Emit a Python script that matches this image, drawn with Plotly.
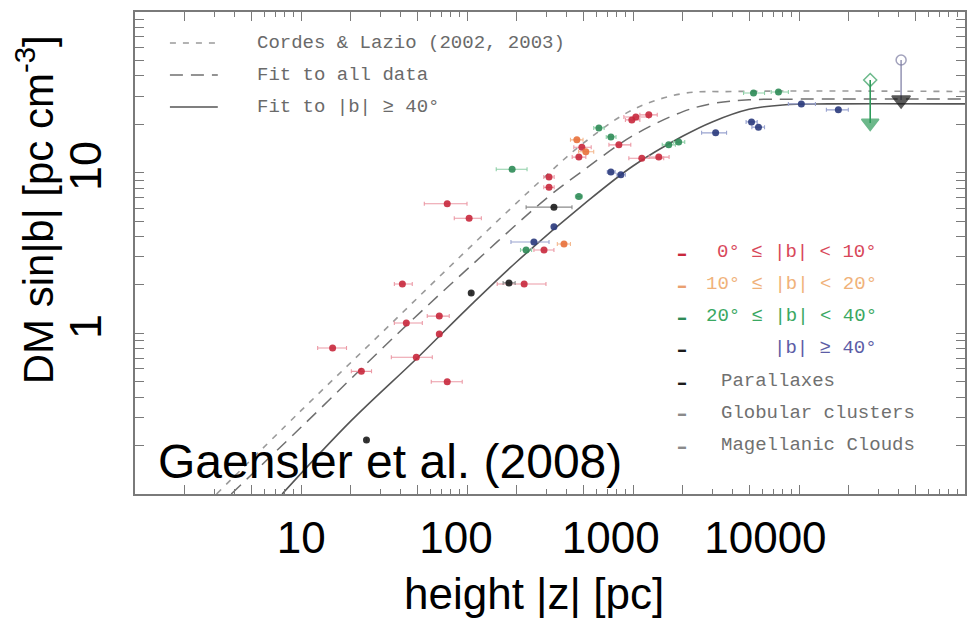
import plotly.graph_objects as go

# ---- model curves: DM sin|b| [pc cm^-3] versus height |z| [pc] ----
cl_z = [3.1, 10, 31, 100, 300, 500, 1000, 2000, 4000, 100000]
cl_dm = [0.1, 0.33, 1.02, 3.3, 9.6, 15.2, 24.7, 31.1, 32.0, 32.0]

all_z = [3.8, 10, 38, 100, 300, 500, 1000, 2000, 3000, 5000, 10000, 100000]
all_dm = [0.1, 0.26, 0.99, 2.5, 6.9, 10.3, 17.0, 24.0, 26.9, 28.4, 28.7, 28.7]

hi_z = [7.7, 20, 50, 100, 200, 500, 1000, 2000, 3000, 5000, 8000, 15000, 100000]
hi_dm = [0.1, 0.285, 0.70, 1.42, 2.8, 6.3, 11.0, 16.9, 20.7, 24.8, 26.4, 26.8, 26.8]

# ---- pulsars, grouped by Galactic latitude (z, DM sin|b|, z range) ----
b00_z = [76, 103, 40.8, 68.1, 43.1, 68.1, 15.5, 49.5, 23.1, 76, 221, 291, 312, 312,
         492, 472, 822, 1130, 1430, 1040, 1245, 984]
b00_dm = [6.4, 5.2, 2.03, 1.28, 1.16, 0.99, 0.81, 0.71, 0.58, 0.50, 2.03, 3.3, 8.1, 9.4,
          14.4, 12.5, 14.9, 12.3, 12.5, 22.2, 22.9, 21.3]
b00_lo = [55.3, 83.8, 36.5, 57.6, 36.5, 68.1, 12.6, 35.0, 20.1, 60.9, 152, 253, 290, 290,
          440, 430, 716, 944, 1250, 881, 1100, 900]
b00_hi = [100, 122, 46.8, 78.2, 53.8, 68.1, 18.8, 61.8, 26.6, 93.6, 299, 334, 335, 335,
          560, 520, 970, 1531, 1650, 1245, 1400, 1100]

b10_z = [384, 520, 459]
b10_dm = [3.6, 13.5, 16.0]
b10_lo = [350, 470, 420]
b10_hi = [420, 580, 500]

b20_z = [187, 227, 472, 736, 623, 1641, 1884, 5320, 7520]
b20_dm = [10.5, 3.3, 7.1, 16.7, 19.0, 14.9, 15.5, 31.3, 31.8]
b20_lo = [150, 210, 450, 690, 580, 1500, 1750, 4634, 6800]
b20_hi = [230, 245, 495, 790, 670, 1800, 2050, 6200, 8630]

b40_z = [334, 253, 736, 845, 3146, 5176, 5700, 10330, 17260]
b40_dm = [4.6, 3.7, 10.1, 9.7, 17.7, 20.7, 19.2, 26.8, 24.6]
b40_lo = [334, 184, 700, 800, 2590, 4800, 5200, 8630, 14620]
b40_hi = [334, 312, 780, 900, 3662, 5600, 6200, 12560, 19820]

par_z = [334, 106, 179, 24.8]
par_dm = [6.1, 1.78, 2.06, 0.217]
par_lo = [227, 106, 165, 24.8]
par_hi = [429, 106, 195, 24.8]

# Magellanic Clouds: |z| and the two ends of each DM range
lmc_z = 26850
lmc_dm = [37.7, 20.4]
smc_z = 41220
smc_dm = [50.3, 28.3]

x_tick_vals = [10, 100, 1000, 10000]
x_tick_text = ["10", "100", "1000", "10000"]
y_tick_vals = [1, 10]

fig = go.Figure()

# frame geometry (pixels) used to place the in-plot legends
L, R, T, B = 135, 967, 12, 494


def px(x):
    return (x - L) / (R - L)


def py(y):
    return (B - y) / (B - T)


def xerr(z, lo, hi, color):
    return dict(type="data", symmetric=False,
                array=[h - v for v, h in zip(z, hi)],
                arrayminus=[v - l for v, l in zip(z, lo)],
                color=color, thickness=1.1, width=2)


CL_DASH, ALL_DASH = "6px,7px", "13px,8px"
CL_COL, ALL_COL, HI_COL = "#9a9a9a", "#707070", "#555555"

# model lines
fig.add_trace(go.Scatter(x=cl_z, y=cl_dm, mode="lines", line_shape="spline",
                         line=dict(color=CL_COL, width=1.6, dash=CL_DASH),
                         hoverinfo="skip"))
fig.add_trace(go.Scatter(x=all_z, y=all_dm, mode="lines", line_shape="spline",
                         line=dict(color=ALL_COL, width=1.5, dash=ALL_DASH),
                         hoverinfo="skip"))
fig.add_trace(go.Scatter(x=hi_z, y=hi_dm, mode="lines", line_shape="spline",
                         line=dict(color=HI_COL, width=1.6),
                         hoverinfo="skip"))

groups = [
    (b00_z, b00_dm, b00_lo, b00_hi, "#c8283c", "#ec9aa6"),
    (b10_z, b10_dm, b10_lo, b10_hi, "#e8703a", "#f4b990"),
    (b20_z, b20_dm, b20_lo, b20_hi, "#2e8b57", "#8fd0a8"),
    (b40_z, b40_dm, b40_lo, b40_hi, "#2a3a7c", "#9aa4d0"),
    (par_z, par_dm, par_lo, par_hi, "#1c1c1c", "#8a8a8a"),
]
for z, dm, lo, hi, col, ecol in groups:
    fig.add_trace(go.Scatter(x=z, y=dm, mode="markers",
                             marker=dict(color=col, size=7, opacity=0.9),
                             error_x=xerr(z, lo, hi, ecol)))

# Magellanic Clouds
fig.add_trace(go.Scatter(x=[lmc_z, lmc_z], y=lmc_dm, mode="lines+markers",
                         line=dict(color="#2e9b5a", width=1.6),
                         marker=dict(symbol=["diamond-open", "triangle-down"],
                                     size=[10, 15], color="#2e9b5a",
                                     line=dict(width=1.5, color="#2e9b5a"))))
fig.add_trace(go.Scatter(x=[smc_z, smc_z], y=smc_dm, mode="lines+markers",
                         line=dict(color="#9a9ab8", width=1.6),
                         marker=dict(symbol=["circle-open", "triangle-down"],
                                     size=[10, 16], color=["#7a7aa0", "#151515"],
                                     line=dict(width=1.5, color=["#7a7aa0", "#151515"]))))

# empty trace so the labelled height axis is laid out
fig.add_trace(go.Scatter(x=[], y=[], xaxis="x2", yaxis="y", mode="markers",
                         hoverinfo="skip"))

shapes = []
annotations = []

# legend for the model lines (upper left)
mono = "Liberation Mono, Courier New, monospace"
line_rows = [
    (43, "Cordes & Lazio (2002, 2003)", CL_DASH, CL_COL),
    (75, "Fit to all data", ALL_DASH, ALL_COL),
    (107, "Fit to |b| ≥ 40°", "solid", HI_COL),
]
for yy, label, dash, col in line_rows:
    shapes.append(dict(type="line", xref="paper", yref="paper",
                       x0=px(170), x1=px(218), y0=py(yy), y1=py(yy),
                       line=dict(color=col, width=1.6, dash=dash)))
    annotations.append(dict(text=label, xref="paper", yref="paper",
                            x=px(255), y=py(yy), xanchor="left", yanchor="middle",
                            showarrow=False, font=dict(family=mono, size=19, color="#6a6a6a")))

# legend for the data points (lower right)
point_rows = [
    (252, "0° ≤ |b| < 10°", "#d8485a", "#c8283c", "right"),
    (284, "10° ≤ |b| < 20°", "#f0b27a", "#eaa070", "right"),
    (316, "20° ≤ |b| < 40°", "#3aa862", "#2e8b57", "right"),
    (348, "|b| ≥ 40°", "#5c5ca6", "#1c1c1c", "right"),
    (381, "Parallaxes", "#707070", "#1c1c1c", "left"),
    (413, "Globular clusters", "#707070", "#8a8a8a", "left"),
    (445, "Magellanic Clouds", "#707070", "#8a8a8a", "left"),
]
for yy, label, tcol, mcol, align in point_rows:
    annotations.append(dict(text="▬", xref="paper", yref="paper",
                            x=px(683), y=py(yy), xanchor="center", yanchor="middle",
                            showarrow=False, font=dict(size=8, color=mcol)))
    if align == "right":
        annotations.append(dict(text=label, xref="paper", yref="paper",
                                x=px(881), y=py(yy), xanchor="right", yanchor="middle",
                                showarrow=False, font=dict(family=mono, size=19, color=tcol)))
    else:
        annotations.append(dict(text=label, xref="paper", yref="paper",
                                x=px(720), y=py(yy), xanchor="left", yanchor="middle",
                                showarrow=False, font=dict(family=mono, size=19, color=tcol)))

sans = "Liberation Sans, Arial, sans-serif"
annotations.append(dict(text="Gaensler et al. (2008)", xref="paper", yref="paper",
                        x=px(156), y=py(461), xanchor="left", yanchor="middle",
                        showarrow=False, font=dict(family=sans, size=48, color="black")))
annotations.append(dict(text="height |z| [pc]", xref="paper", yref="paper",
                        x=px(535), y=py(593), xanchor="center", yanchor="middle",
                        showarrow=False, font=dict(family=sans, size=44, color="black")))
annotations.append(dict(text="DM sin|b| [pc cm<sup>-3</sup>]", xref="paper", yref="paper",
                        x=px(35), y=py(210), xanchor="center", yanchor="middle",
                        textangle=-90, showarrow=False,
                        font=dict(family=sans, size=42, color="black")))

frame = "#7a7a7a"
fig.update_layout(
    width=976, height=621, autosize=False,
    margin=dict(l=L, r=976 - R, t=T, b=621 - B),
    paper_bgcolor="white", plot_bgcolor="white",
    showlegend=False,
    shapes=shapes, annotations=annotations,
    xaxis=dict(type="log", range=[0, 5], showgrid=False, zeroline=False,
               showline=True, linecolor=frame, linewidth=1.5, mirror="allticks",
               ticks="inside", ticklen=9, tickcolor=frame, tickwidth=1,
               showticklabels=False,
               minor=dict(ticks="inside", ticklen=5, tickcolor=frame, dtick="D1")),
    xaxis2=dict(type="log", range=[-0.074, 5.290], overlaying="x", anchor="y",
                side="bottom", showgrid=False, zeroline=False, showline=False,
                ticks="", tickvals=x_tick_vals, ticktext=x_tick_text,
                ticklabelstandoff=14,
                tickfont=dict(family=sans, size=44, color="black")),
    yaxis=dict(type="log", range=[-1, 2], showgrid=False, zeroline=False,
               showline=True, linecolor=frame, linewidth=1.5, mirror="allticks",
               ticks="inside", ticklen=9, tickcolor=frame, tickwidth=1,
               tickvals=y_tick_vals, tickangle=-90, ticklabelstandoff=14,
               tickfont=dict(family=sans, size=45, color="black"),
               minor=dict(ticks="inside", ticklen=5, tickcolor=frame, dtick="D1")),
)

fig.write_html("out.html")
